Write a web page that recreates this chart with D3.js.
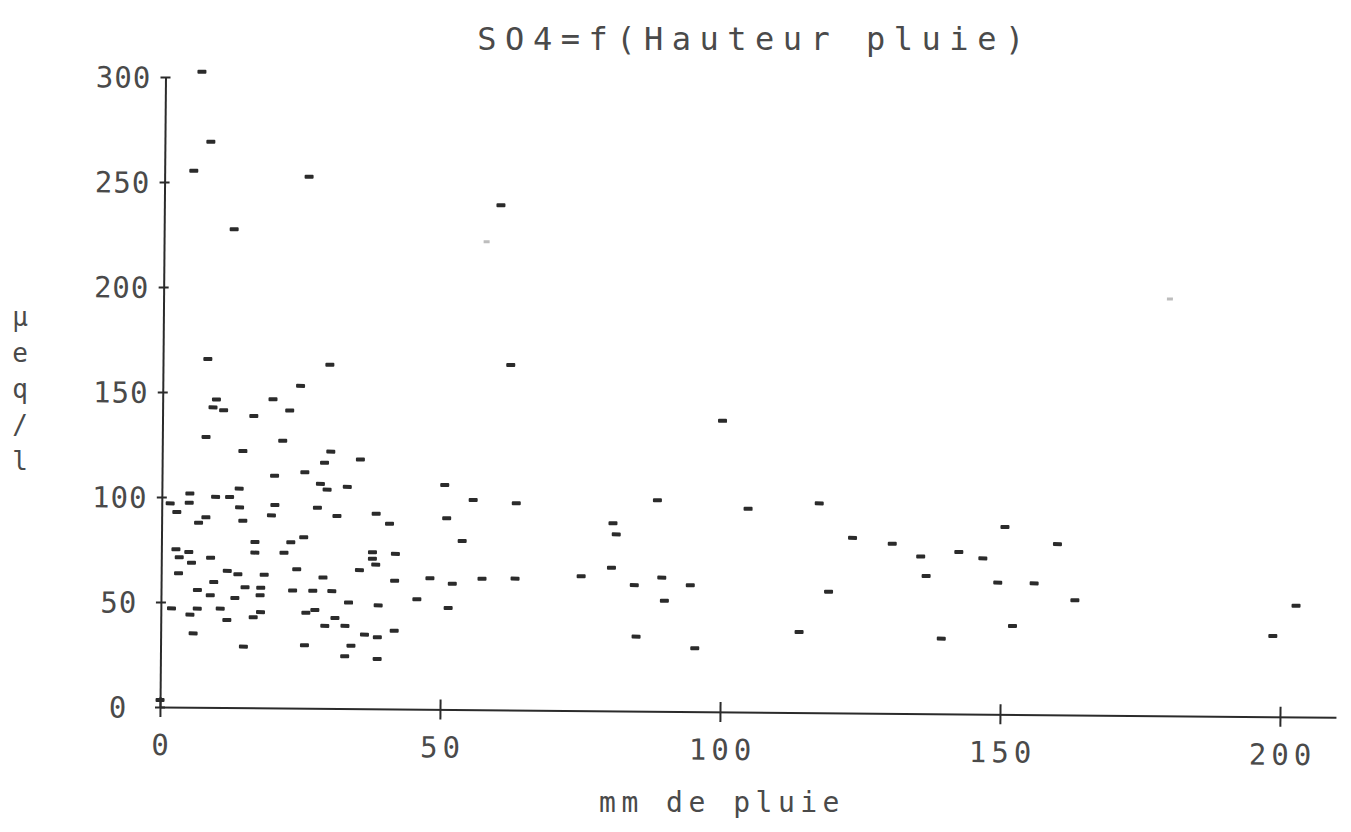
<!DOCTYPE html>
<html>
<head>
<meta charset="utf-8">
<script src="https://cdn.jsdelivr.net/npm/d3@7"></script>
<style>
  html, body { margin: 0; padding: 0; background: #fff; }
  svg { display: block; }
</style>
</head>
<body>
<svg id="chart" width="1351" height="832"></svg>
<script>
// ---- data (rain height mm, SO4 µeq/l) ----
const rainMm = [
  6.5, 8.2, 5.2, 25.8, 12.5,
  8.0, 29.8, 24.6, 9.6, 19.7, 9.0, 10.9, 22.7, 16.3, 7.8, 21.5, 14.4, 30.1, 29.0, 35.4,
  20.1, 25.5, 28.3, 29.5, 33.1, 13.8, 5.0, 9.6, 12.1,
  1.5, 4.9, 13.9, 20.2, 27.8, 2.7, 7.9, 6.6, 14.5, 19.6, 31.3, 38.3, 40.7,
  16.7, 23.1, 25.4, 2.6, 4.9, 3.2, 5.4, 8.8, 16.7, 21.9, 37.7, 37.7, 38.3, 41.8,
  3.1, 11.8, 13.7, 18.4, 24.2, 35.4, 28.9, 41.7, 48.0, 9.4, 6.5, 8.8, 15.0, 17.8,
  17.7, 13.2, 23.5, 27.1, 30.5, 33.5, 38.8, 45.7, 1.9, 6.5, 5.2, 10.6, 11.8, 16.5,
  17.8, 25.9, 27.5, 31.1, 29.3, 32.9, 36.4, 38.7, 41.7, 5.8, 14.8, 25.7, 34.0, 32.9,
  38.7, 0.0,
  60.1, 62.1, 100.0,
  50.5, 55.6, 63.3, 50.9, 53.7, 88.5, 104.7, 80.6, 81.2, 80.4, 52.0, 57.3, 63.2,
  75.0, 84.5, 89.4, 94.5, 89.9, 51.3, 84.9, 95.4,
  117.4, 123.4, 130.5, 135.6, 142.4, 146.7, 150.6, 136.6, 149.4, 155.9, 119.2, 114.0,
  139.4, 152.1, 160.0, 163.2, 202.7, 198.6
];
const so4 = [
  302.7, 269.4, 255.5, 253.1, 227.8,
  165.9, 163.7, 153.5, 146.7, 147.0, 142.9, 141.6, 141.7, 139.0, 128.8, 127.3, 122.2, 122.3, 117.0, 118.7,
  110.6, 112.4, 106.9, 104.2, 105.6, 104.3, 101.8, 100.3, 100.3,
  97.0, 97.4, 95.4, 96.7, 95.5, 92.9, 90.5, 87.9, 89.0, 91.7, 91.7, 92.9, 88.2,
  79.0, 79.0, 81.4, 75.2, 73.9, 71.4, 68.8, 71.3, 73.9, 74.0, 74.6, 71.5, 68.7, 73.9,
  63.8, 65.1, 63.5, 63.4, 66.2, 66.0, 62.3, 61.1, 62.4, 59.7, 55.9, 53.4, 57.4, 57.2,
  53.6, 52.2, 56.0, 56.0, 55.9, 50.5, 49.3, 52.4, 47.0, 47.0, 44.1, 47.1, 41.7, 43.1,
  45.6, 45.5, 46.8, 43.1, 39.3, 39.4, 35.3, 34.1, 37.3, 35.2, 29.1, 30.0, 30.0, 24.9,
  23.8, 3.3,
  240.3, 164.3, 138.6,
  106.9, 99.9, 98.5, 91.1, 80.3, 100.5, 96.8, 89.4, 84.1, 68.2, 59.9, 62.4, 62.6,
  64.0, 60.0, 63.7, 60.2, 52.7, 48.3, 35.5, 30.2,
  99.7, 83.4, 80.8, 74.8, 77.1, 74.2, 89.2, 65.6, 62.7, 62.5, 57.7, 38.4,
  35.8, 42.1, 81.3, 54.6, 52.9, 38.4
];
// faintly printed points
const faintRain = [57.6, 179.7];
const faintSo4 = [222.9, 198.5];

const xTicks = [0, 50, 100, 150, 200];
const yTicks = [0, 50, 100, 150, 200, 250, 300];
const titleText = "SO4=f(Hauteur pluie)";
const xTitle = "mm de pluie";
const yTitle = "µeq/l";

// ---- drawing ----
const svg = d3.select("#chart");
const ink = "#2b2b2b";
const txt = "#4a4a4a";
const mono = "'DejaVu Sans Mono', 'Liberation Mono', monospace";

const x = d3.scaleLinear().domain([0, 210]).range([160, 1336]);
const y = d3.scaleLinear().domain([0, 300]).range([707, 77]);

// slight tilt of the scanned page
const plot = svg.append("g").attr("transform", "rotate(0.5,160,707)");

// x axis
const xAxis = plot.append("g")
  .attr("transform", `translate(0,${y(0)})`)
  .call(d3.axisBottom(x).tickValues(xTicks).tickSizeInner(10).tickSizeOuter(0));
xAxis.select(".domain").attr("stroke", ink).attr("stroke-width", 2);
xAxis.selectAll(".tick line").attr("y1", -10).attr("stroke", ink).attr("stroke-width", 2);
xAxis.selectAll(".tick text")
  .attr("font-family", mono).attr("font-size", 29).attr("fill", txt)
  .attr("letter-spacing", 5).attr("dy", 0).attr("y", 48)
  .attr("dx", 2.5);

// y axis
const yAxis = plot.append("g")
  .attr("transform", `translate(${x(0)},0)`)
  .call(d3.axisLeft(y).tickValues(yTicks).tickSizeInner(5).tickSizeOuter(0));
yAxis.select(".domain").attr("stroke", ink).attr("stroke-width", 2);
yAxis.selectAll(".tick line").attr("x1", 5).attr("stroke", ink).attr("stroke-width", 2);
yAxis.selectAll(".tick text")
  .attr("font-family", mono).attr("font-size", 29).attr("fill", txt)
  .attr("letter-spacing", 1)
  .attr("text-anchor", "middle").attr("x", -42).attr("dy", "0.36em");

// points
const pts = rainMm.map((r, i) => ({ r, s: so4[i] }));
plot.append("g").selectAll("rect").data(pts).join("rect")
  .attr("x", d => x(d.r) - 4.5)
  .attr("y", d => y(d.s) - 2)
  .attr("width", 9).attr("height", 4).attr("rx", 1)
  .attr("fill", ink);

const faint = faintRain.map((r, i) => ({ r, s: faintSo4[i] }));
plot.append("g").selectAll("rect").data(faint).join("rect")
  .attr("x", d => x(d.r) - 3)
  .attr("y", d => y(d.s) - 1.5)
  .attr("width", 6).attr("height", 3)
  .attr("fill", "#bdbdbd");

// titles
svg.append("text")
  .attr("x", 755).attr("y", 50)
  .attr("text-anchor", "middle")
  .attr("font-family", mono).attr("font-size", 32).attr("fill", txt)
  .attr("letter-spacing", 8.5)
  .text(titleText);

svg.append("text")
  .attr("x", 722).attr("y", 812)
  .attr("text-anchor", "middle")
  .attr("font-family", mono).attr("font-size", 28).attr("fill", txt)
  .attr("letter-spacing", 5.5)
  .text(xTitle);

svg.append("g").selectAll("text").data(yTitle.split("")).join("text")
  .attr("x", 20)
  .attr("y", (d, i) => 326 + i * 36)
  .attr("text-anchor", "middle")
  .attr("font-family", mono).attr("font-size", 26).attr("fill", txt)
  .text(d => d);
</script>
</body>
</html>
